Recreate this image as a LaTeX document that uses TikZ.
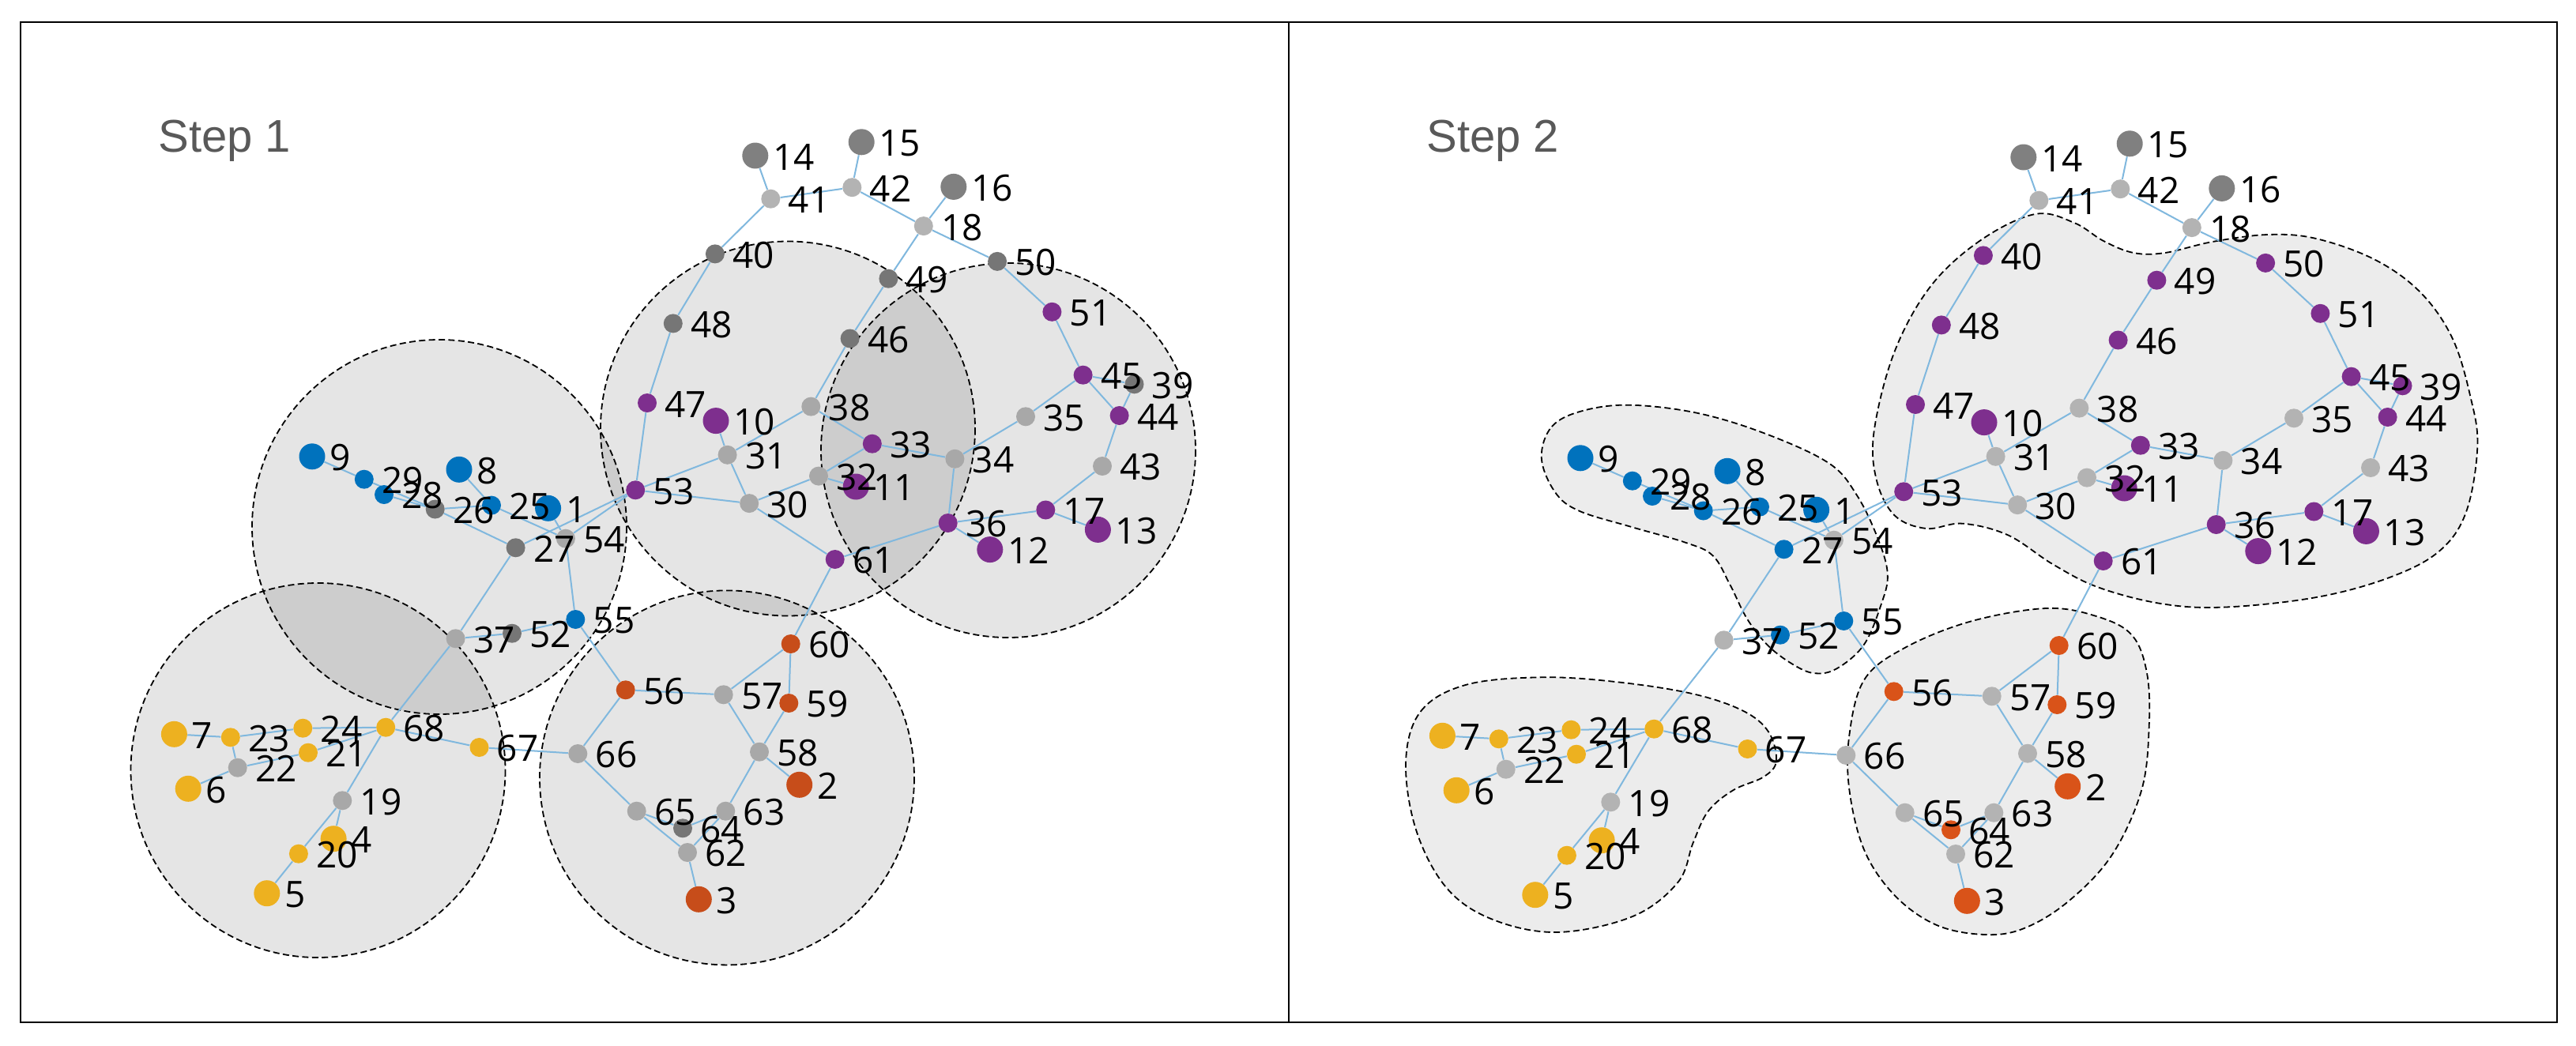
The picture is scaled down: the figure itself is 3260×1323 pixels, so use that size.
\documentclass[tikz,border=0pt]{standalone}
\usepackage{fontspec}
\setmainfont{Open Sans}
\newfontfamily\stepfont{Liberation Sans}
\definecolor{blu}{HTML}{0072BD}
\definecolor{ora}{HTML}{D95319}
\definecolor{oraD}{HTML}{C74D1A}
\definecolor{yel}{HTML}{EDB120}
\definecolor{pur}{HTML}{7E2F8E}
\definecolor{lgr}{HTML}{B3B3B3}
\definecolor{lgrD}{HTML}{A8A8A8}
\definecolor{dgr}{HTML}{808080}
\definecolor{dgrD}{HTML}{767676}
\definecolor{edgecol}{HTML}{80B8DE}
\definecolor{stepgray}{HTML}{595959}
\definecolor{blobfill}{HTML}{ECECEC}
\pgfdeclarelayer{blobs}
\pgfdeclarelayer{edges}
\pgfdeclarelayer{labels}
\pgfsetlayers{blobs,edges,main,labels}
\def\nodelist{1/693.6/643.3/B/blu/blu, 2/1011.7/993.3/B/oraD/ora, 3/884.3/1138.3/B/oraD/ora,
4/422.1/1061.7/B/yel/yel, 5/337.8/1130.7/B/yel/yel, 6/238.2/998.3/B/yel/yel,
7/220.4/929.3/B/yel/yel, 8/581/594.3/B/blu/blu, 9/395/577.8/B/blu/blu,
10/906/532.6/B/pur/pur, 11/1083.2/616/B/pur/pur, 12/1252.8/695.6/B/pur/pur,
13/1389.4/670.4/B/pur/pur, 14/955.8/197/B/dgr/dgr, 15/1090.2/179.8/B/dgr/dgr,
16/1206.8/236.4/B/dgr/dgr, 17/1323.3/645.5/s/pur/pur, 18/1168.8/286.1/s/lgr/lgr,
19/433.3/1013.3/s/lgrD/lgr, 20/377.9/1080.7/s/yel/yel, 21/390/952.7/s/yel/yel,
22/300.7/971.7/s/lgrD/lgr, 23/291.8/933.3/s/yel/yel, 24/383.3/921.7/s/yel/yel,
25/622/639.6/s/blu/blu, 26/550.7/644.5/s/dgrD/blu, 27/652.6/693.3/s/dgrD/blu,
28/486/626/s/blu/blu, 29/460.8/606.7/s/blu/blu, 30/948.2/637.1/s/lgrD/lgr,
31/920.6/575.8/s/lgrD/lgr, 32/1036/602.6/s/lgrD/lgr, 33/1103.8/561.7/s/pur/pur,
34/1208.4/580.8/s/lgrD/lgr, 35/1298/527.3/s/lgrD/lgr, 36/1199.7/662/s/pur/pur,
37/576.6/808.3/s/lgrD/lgr, 38/1026.3/514.6/s/lgrD/lgr, 39/1435.5/486.3/s/dgrD/pur,
40/904.9/321.4/s/dgrD/pur, 41/975.3/251.7/s/lgr/lgr, 42/1078.3/237.2/s/lgr/lgr,
43/1395/590/s/lgrD/lgr, 44/1416.6/526/s/pur/pur, 45/1370.6/474.7/s/pur/pur,
46/1075.6/428.5/s/dgrD/pur, 47/819/510/s/pur/pur, 48/851.8/409.4/s/dgrD/pur,
49/1124.4/352.7/s/dgrD/pur, 50/1262.1/330.9/s/dgrD/pur, 51/1331.4/394.8/s/pur/pur,
52/648/801.7/s/dgrD/blu, 53/804.2/620.3/s/pur/pur, 54/715.9/681.7/s/lgrD/lgr,
55/728.3/784/s/blu/blu, 56/791.7/873.3/s/oraD/ora, 57/915.7/879.3/s/lgrD/lgr,
58/961/951.7/s/lgrD/lgr, 59/998.3/890/s/oraD/ora, 60/1000.7/815/s/oraD/ora,
61/1056.7/708/s/pur/pur, 62/870/1079/s/lgrD/lgr, 63/918.3/1026.7/s/lgrD/lgr,
64/864/1048.3/s/dgrD/ora, 65/805.7/1026.7/s/lgrD/lgr, 66/731.3/954/s/lgrD/lgr,
67/606.5/946/s/yel/yel, 68/488.2/920.7/s/yel/yel}
\def\edgelist{14/41, 15/42, 41/42, 41/40, 42/18, 16/18, 18/49, 18/50, 40/48, 48/47,
47/53, 49/46, 46/38, 38/31, 38/33, 10/31, 31/53, 31/30, 53/30, 30/32, 32/33, 32/11,
30/61, 33/34, 34/35, 35/45, 34/36, 36/61, 36/17, 36/12, 17/13, 17/43, 43/44, 44/45,
44/39, 45/39, 45/51, 51/50, 53/54, 53/27, 1/54, 25/54, 8/25, 26/25, 9/29, 29/26,
28/26, 26/27, 27/37, 37/52, 52/55, 54/55, 55/56, 37/68, 68/19, 19/4, 19/20, 20/5,
68/24, 68/21, 68/67, 67/66, 24/23, 23/7, 23/22, 22/21, 22/6, 66/56, 66/65, 65/64,
65/62, 64/63, 63/62, 63/58, 62/3, 58/57, 58/59, 58/2, 57/56, 57/60, 60/59, 60/61}
\begin{document}
\begin{tikzpicture}[x=0.5pt,y=-0.5pt,
  vtxB/.style={circle,inner sep=0pt,minimum size=16.5pt,draw=none},
  vtxs/.style={circle,inner sep=0pt,minimum size=12pt,draw=none},
  lbl/.style={anchor=west,inner sep=0pt,font=\fontsize{23}{24}\selectfont},
  edge/.style={draw=edgecol,line width=1pt},
  cluster/.style={draw=black,line width=0.9pt,dash pattern=on 4pt off 2.2pt,fill=black,fill opacity=0.1},
  blob/.style={draw=black,line width=0.9pt,dash pattern=on 4pt off 2.2pt,fill=blobfill},
  steptxt/.style={anchor=base west,inner sep=0pt,text=stepgray,font=\stepfont\fontsize{29}{30}\selectfont},
  frame/.style={draw=black,line width=1.3pt}]
\useasboundingbox (0,0) rectangle (3260,1323);
\begin{pgfonlayer}{blobs}
\fill[white] (0,0) rectangle (3260,1323);
\end{pgfonlayer}
% frames
\draw[frame] (26,28) rectangle (1631,1294);
\draw[frame] (1631,28) rectangle (3236,1294);
\node[steptxt] (s1) at (200,192) {Step 1};
\node[steptxt] (s2) at (1805,192) {Step 2};
% ---------- Step 1 ----------
\begin{pgfonlayer}{blobs}
\foreach \cx/\cy in {556/667, 997/542.5, 1276/570, 402.5/975, 920/984.4}
  { \draw[cluster] (\cx,\cy) circle[radius=237]; }
\end{pgfonlayer}
\foreach \i/\x/\y/\s/\ca/\cb in \nodelist {
  \node[vtx\s,fill=\ca] (a\i) at (\x,\y) {};
  \begin{pgfonlayer}{labels}
    \node[lbl] (la\i) at (\x+22,\y+1.5) {\i};
  \end{pgfonlayer}
}
\begin{pgfonlayer}{edges}
\foreach \u/\v in \edgelist { \draw[edge] (a\u) -- (a\v); }
\end{pgfonlayer}
% ---------- Step 2 ----------
\begin{pgfonlayer}{blobs}
\draw[blob] plot[smooth cycle,tension=0.6] coordinates {
 (2575.5,271) (2506.7,304) (2443.5,362) (2397.6,445) (2371.8,544.6) (2374.6,606.8)
 (2397.6,652.4) (2437.8,669) (2483.7,662.7) (2541.1,677.3) (2598.5,714.6) (2655.9,743.6)
 (2736.3,764.3) (2816.6,768.5) (2931.5,756) (3023.3,731.2) (3086.5,698) (3120.9,648.2)
 (3135.3,565.3) (3126.6,503.1) (3103.7,428.5) (3063.5,370.5) (3006.1,329) (2931.5,302.1)
 (2870,297) (2800,306) (2740,320) (2700,320) (2662,305) (2625,282)};
\draw[blob] plot[smooth cycle,tension=0.6] coordinates {
 (1950.8,580) (1963.8,540) (2002.8,520) (2063.6,512.7) (2150.3,523.3) (2237,550)
 (2315.1,586.7) (2349.8,626.7) (2375.8,680) (2388.8,726.7) (2380.1,766.7) (2358.4,816.7)
 (2323.7,846.7) (2295,852) (2267.4,840) (2237,816.7) (2211,783.3) (2189.3,740)
 (2167.6,703.3) (2132.9,686.7) (2063.6,666.7) (1998.5,646.7) (1968.2,623.3)};
\draw[blob] plot[smooth cycle,tension=0.6] coordinates {
 (1779.1,963.3) (1798.3,900) (1855.7,866.7) (1951.3,857.3) (2047,863.3) (2142.7,878.3)
 (2206.4,900) (2238.3,926.7) (2247.9,963.3) (2232,983.3) (2193.7,1000) (2161.8,1026.7)
 (2142.7,1066.7) (2123.5,1116.7) (2066.1,1160) (1970.5,1180) (1887.6,1163.3)
 (1830.2,1123.3) (1791.9,1050)};
\draw[blob] plot[smooth cycle,tension=0.6] coordinates {
 (2340.4,930) (2359.5,860) (2410.5,820) (2493.4,786.7) (2589.1,770) (2652.9,780)
 (2697.4,803.3) (2716.6,850) (2719.8,916.7) (2710.2,1000) (2672,1083.3) (2614.6,1143.3)
 (2557.1,1176.7) (2506.1,1182.7) (2448.7,1170) (2397.7,1133.3) (2359.5,1076.7)
 (2340.4,1000)};
\end{pgfonlayer}
\begin{scope}[shift={(1605,2)}]
\foreach \i/\x/\y/\s/\ca/\cb in \nodelist {
  \node[vtx\s,fill=\cb] (b\i) at (\x,\y) {};
  \begin{pgfonlayer}{labels}
    \node[lbl] (lb\i) at (\x+22,\y+1.5) {\i};
  \end{pgfonlayer}
}
\begin{pgfonlayer}{edges}
\foreach \u/\v in \edgelist { \draw[edge] (b\u) -- (b\v); }
\end{pgfonlayer}
\end{scope}
\end{tikzpicture}
\end{document}
